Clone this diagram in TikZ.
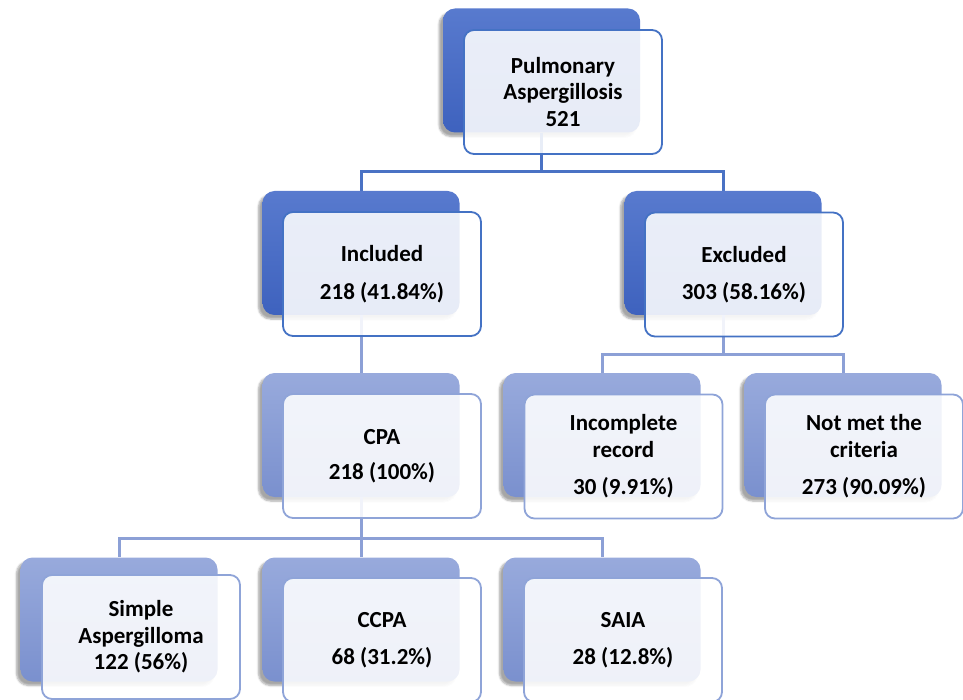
\documentclass[tikz,border=0pt]{standalone}
\usepackage{fontspec}
\setmainfont{Carlito}
\usetikzlibrary{shadows.blur}
\definecolor{bdtop}{RGB}{88,122,206}
\definecolor{bdbot}{RGB}{62,98,190}
\definecolor{bltop}{RGB}{152,170,220}
\definecolor{blbot}{RGB}{122,144,206}
\definecolor{frdark}{RGB}{68,114,196}
\definecolor{frlight}{RGB}{143,164,216}
\definecolor{lndark}{RGB}{74,114,196}
\definecolor{lnlight}{RGB}{140,160,214}
\tikzset{
  backbox/.style={rectangle, rounded corners=12pt, minimum width=197pt, minimum height=124pt,
    blur shadow={shadow xshift=-4pt, shadow yshift=-4pt, shadow blur steps=6, shadow opacity=35}},
  backdark/.style={backbox, top color=bdtop, bottom color=bdbot},
  backlight/.style={backbox, top color=bltop, bottom color=blbot},
  frontbox/.style={rectangle, rounded corners=10pt, minimum width=198pt, minimum height=124pt,
    line width=1.8pt, fill=white, fill opacity=0.88, text opacity=1, align=center,
    font=\bfseries\fontsize{23}{26.5}\selectfont},
  frontdark/.style={frontbox, draw=frdark},
  frontlight/.style={frontbox, draw=frlight},
  linkdark/.style={draw=lndark, line width=3pt},
  linklight/.style={draw=lnlight, line width=3pt},
}
\begin{document}
\begin{tikzpicture}[x=1pt,y=-1pt]
\useasboundingbox (0,0) rectangle (963,700);
% back boxes
\node[backdark]  (top-b)  at (541.5,70.5) {};
\node[backdark]  (inc-b)  at (361,253) {};
\node[backdark]  (exc-b)  at (723,253) {};
\node[backlight] (cpa-b)  at (361,435) {};
\node[backlight] (incr-b) at (602,435) {};
\node[backlight] (not-b)  at (843,435) {};
\node[backlight] (sim-b)  at (119,619.5) {};
\node[backlight] (ccpa-b) at (361,619.5) {};
\node[backlight] (saia-b) at (602,619.5) {};
% connectors
\coordinate (m1) at (541.5,172);
\coordinate (m2) at (723,354);
\coordinate (m3) at (361,538);
\draw[linkdark] (top-b.south) -- (m1) -| (inc-b.north);
\draw[linkdark] (m1) -| (exc-b.north);
\draw[linklight] (inc-b.south) -- (cpa-b.north);
\draw[linklight] (exc-b.south) -- (m2) -| (incr-b.north);
\draw[linklight] (m2) -| (not-b.north);
\draw[linklight] (cpa-b.south) -- (m3) -| (sim-b.north);
\draw[linklight] (m3) -- (ccpa-b.north);
\draw[linklight] (m3) -| (saia-b.north);
% front boxes
\node[frontdark]  (top)  at (563,92) {Pulmonary\\Aspergillosis\\521};
\node[frontdark]  (inc)  at (382,274) {Included\\[11pt]218 (41.84\%)};
\node[frontdark]  (exc)  at (744,274.5) {Excluded\\[11pt]303 (58.16\%)};
\node[frontlight] (cpa)  at (382,456) {CPA\\[9pt]218 (100\%)};
\node[frontlight] (incr) at (623.5,456.5) {Incomplete\\record\\[11pt]30 (9.91\%)};
\node[frontlight] (not)  at (864,456.5) {Not met the\\criteria\\[11pt]273 (90.09\%)};
\node[frontlight] (sim)  at (141,637) {Simple\\Aspergilloma\\122 (56\%)};
\node[frontlight] (ccpa) at (382,640) {CCPA\\[11pt]68 (31.2\%)};
\node[frontlight] (saia) at (623,640) {SAIA\\[11pt]28 (12.8\%)};
\end{tikzpicture}
\end{document}
